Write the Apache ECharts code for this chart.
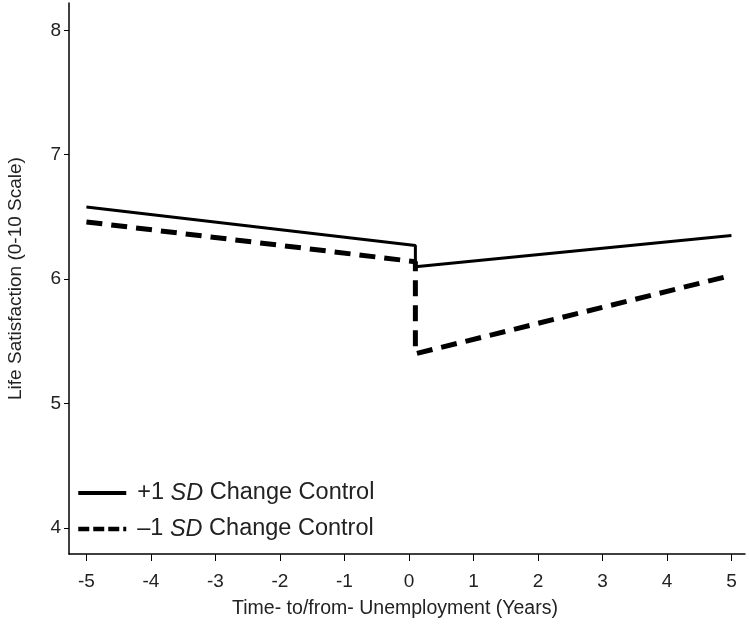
<!DOCTYPE html>
<html>
<head>
<meta charset="utf-8">
<script src="https://cdn.jsdelivr.net/npm/echarts@6/dist/echarts.min.js"></script>
<style>html,body{margin:0;padding:0;background:#fff}#c{width:750px;height:634px}</style>
</head>
<body>
<div id="c"></div>
<script>
var xTicks = [-5, -4, -3, -2, -1, 0, 1, 2, 3, 4, 5];
var yTicks = [4, 5, 6, 7, 8];
var seriesNames = ['+1 SD Change Control', '\u20131 SD Change Control'];
var plusX = [-5, 0.1, 0.1, 5];
var plusY = [6.58, 6.27, 6.10, 6.35];
var minusX = [-5, 0.1, 0.1, 5];
var minusY = [6.46, 6.14, 5.40, 6.03];

function pairs(xs, ys) { return xs.map(function (x, i) { return [x, ys[i]]; }); }

var chart = echarts.init(document.getElementById('c'));
var font = 'Liberation Sans, Arial, sans-serif';
chart.setOption({
  animation: false,
  backgroundColor: '#fff',
  grid: { left: 69, right: 5, top: 3, bottom: 80, containLabel: false, outerBoundsMode: 'none' },
  xAxis: {
    type: 'value', min: -5.27, max: 5.21,
    name: 'Time- to/from- Unemployment (Years)', nameLocation: 'middle', nameGap: 45,
    nameTextStyle: { fontFamily: font, fontSize: 19.5, color: '#222', padding: [0, 24, 0, 0] },
    axisLine: { show: true, onZero: false, lineStyle: { color: '#000', width: 1.5 } },
    axisTick: { show: true, length: 7, customValues: xTicks, lineStyle: { color: '#000' } },
    axisLabel: { customValues: xTicks, fontFamily: font, fontSize: 19, color: '#222', margin: 18 },
    splitLine: { show: false }
  },
  yAxis: {
    type: 'value', min: 3.79, max: 8.22,
    name: 'Life Satisfaction (0-10 Scale)', nameLocation: 'middle', nameGap: 44,
    nameTextStyle: { fontFamily: font, fontSize: 19, color: '#222' },
    axisLine: { show: true, onZero: false, lineStyle: { color: '#000', width: 1.5 } },
    axisTick: { show: true, length: 5, customValues: yTicks, lineStyle: { color: '#000' } },
    axisLabel: { customValues: yTicks, fontFamily: font, fontSize: 19, color: '#222', margin: 8 },
    splitLine: { show: false }
  },
  legend: {
    orient: 'vertical', left: 71, top: 476, itemGap: 12,
    itemWidth: 48, itemHeight: 24,
    itemStyle: { opacity: 0 },
    data: [
      { name: seriesNames[0], lineStyle: { width: 4, type: 'solid', color: '#000' } },
      { name: seriesNames[1], lineStyle: { width: 4.5, type: [11, 4], color: '#000' } }
    ],
    formatter: function (n) { return n.replace('SD', '{i|SD}'); },
    textStyle: { fontFamily: font, fontSize: 23.5, color: '#222', padding: [0, 0, 0, 6],
      rich: { i: { fontFamily: font, fontSize: 23.5, fontStyle: 'italic', color: '#222' } } }
  },
  series: [
    { name: seriesNames[0], type: 'line', data: pairs(plusX, plusY), symbol: 'none',
      lineStyle: { color: '#000', width: 3 }, itemStyle: { color: '#000' } },
    { name: seriesNames[1], type: 'line', data: pairs(minusX, minusY), symbol: 'none',
      lineStyle: { color: '#000', width: 5, type: [16, 9] }, itemStyle: { color: '#000' } }
  ]
});
</script>
</body>
</html>
